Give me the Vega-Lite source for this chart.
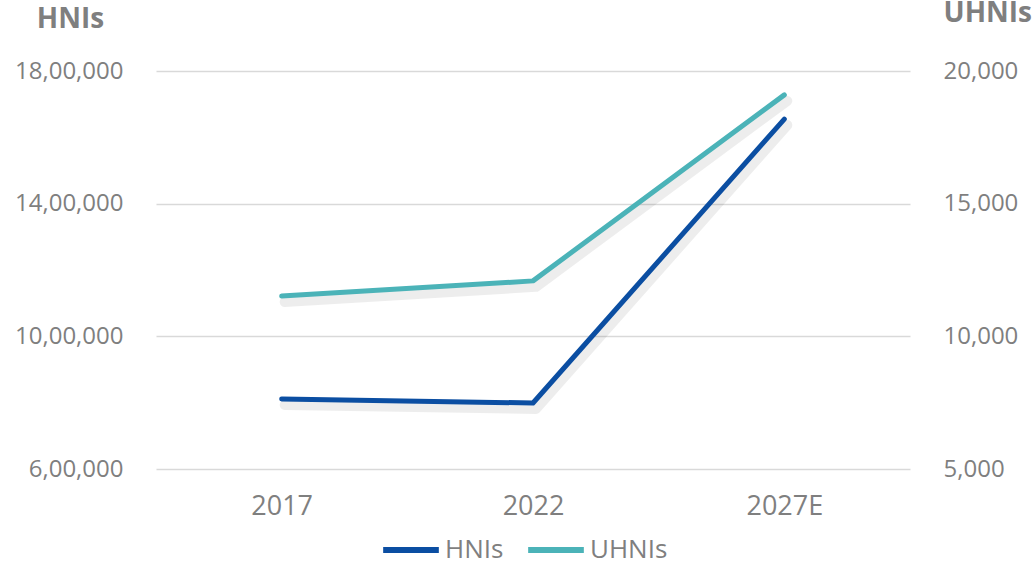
{
  "$schema": "https://vega.github.io/schema/vega-lite/v6.json",
  "width": 754,
  "height": 398,
  "autosize": {"type": "none"},
  "padding": {"left": 156, "top": 71, "right": 126, "bottom": 93},
  "background": "white",
  "config": {
    "view": {"stroke": null},
    "font": "Open Sans"
  },
  "data": {
    "values": [
      {"year": "2017", "HNIs": 811000, "UHNIs": 11520},
      {"year": "2022", "HNIs": 799000, "UHNIs": 12090},
      {"year": "2027E", "HNIs": 1655000, "UHNIs": 19100}
    ]
  },
  "encoding": {
    "x": {
      "field": "year",
      "type": "ordinal",
      "sort": null,
      "scale": {"type": "point", "padding": 0.5},
      "axis": {
        "title": null,
        "labelAngle": 0,
        "labelFontSize": 27,
        "labelColor": "#7F7F7F",
        "labelPadding": 24,
        "labelBaseline": "top",
        "domain": false,
        "ticks": false,
        "grid": false
      }
    }
  },
  "layer": [
    {
      "layer": [
        {
          "mark": {"type": "line", "strokeWidth": 10, "color": "#000000", "opacity": 0.07, "xOffset": 3, "yOffset": 6, "strokeCap": "round", "strokeJoin": "round"},
          "encoding": {
            "y": {"field": "HNIs", "type": "quantitative"}
          }
        },
        {
          "mark": {"type": "line", "strokeWidth": 5, "strokeCap": "round", "strokeJoin": "round"},
          "encoding": {
            "y": {
              "field": "HNIs",
              "type": "quantitative",
              "scale": {"domain": [600000, 1800000], "nice": false, "zero": false},
              "axis": {
                "title": "HNIs",
                "titleAngle": 0,
                "titleFontSize": 28,
                "titleFontWeight": "bold",
                "titleColor": "#7F7F7F",
                "titleAlign": "center",
                "titleBaseline": "alphabetic",
                "titleX": -86,
                "titleY": -44,
                "values": [600000, 1000000, 1400000, 1800000],
                "labelExpr": "format(floor(datum.value/100000),'d') + ',' + format(floor(datum.value/1000)%100,'02d') + ',' + format(datum.value%1000,'03d')",
                "labelFontSize": 24,
                "labelColor": "#7F7F7F",
                "labelPadding": 33,
                "domain": false,
                "ticks": false,
                "grid": true,
                "gridColor": "#D9D9D9",
                "gridWidth": 1.5
              }
            },
            "color": {
              "datum": "HNIs",
              "type": "nominal",
              "scale": {"domain": ["HNIs", "UHNIs"], "range": ["#0B4EA2", "#4BB3B8"]},
              "legend": {
                "title": null,
                "orient": "none",
                "direction": "horizontal",
                "legendX": 224,
                "legendY": 448,
                "symbolType": "stroke",
                "symbolSize": 3100,
                "symbolStrokeWidth": 6,
                "labelFontSize": 26,
                "labelColor": "#7F7F7F",
                "labelOffset": 3,
                "columnPadding": 12,
                "symbolOffset": 0
              }
            }
          }
        }
      ]
    },
    {
      "layer": [
        {
          "mark": {"type": "line", "strokeWidth": 10, "color": "#000000", "opacity": 0.07, "xOffset": 3, "yOffset": 6, "strokeCap": "round", "strokeJoin": "round"},
          "encoding": {
            "y": {"field": "UHNIs", "type": "quantitative"}
          }
        },
        {
          "mark": {"type": "line", "strokeWidth": 5, "strokeCap": "round", "strokeJoin": "round"},
          "encoding": {
            "y": {
              "field": "UHNIs",
              "type": "quantitative",
              "scale": {"domain": [5000, 20000], "nice": false, "zero": false},
              "axis": {
                "orient": "right",
                "title": "UHNIs",
                "titleAngle": 0,
                "titleFontSize": 28,
                "titleFontWeight": "bold",
                "titleColor": "#7F7F7F",
                "titleAlign": "left",
                "titleBaseline": "alphabetic",
                "titleX": 33,
                "titleY": -50,
                "values": [5000, 10000, 15000, 20000],
                "format": ",d",
                "labelFontSize": 24,
                "labelColor": "#7F7F7F",
                "labelPadding": 33,
                "domain": false,
                "ticks": false,
                "grid": false
              }
            },
            "color": {"datum": "UHNIs", "type": "nominal"}
          }
        }
      ]
    }
  ],
  "resolve": {"scale": {"y": "independent"}}
}
